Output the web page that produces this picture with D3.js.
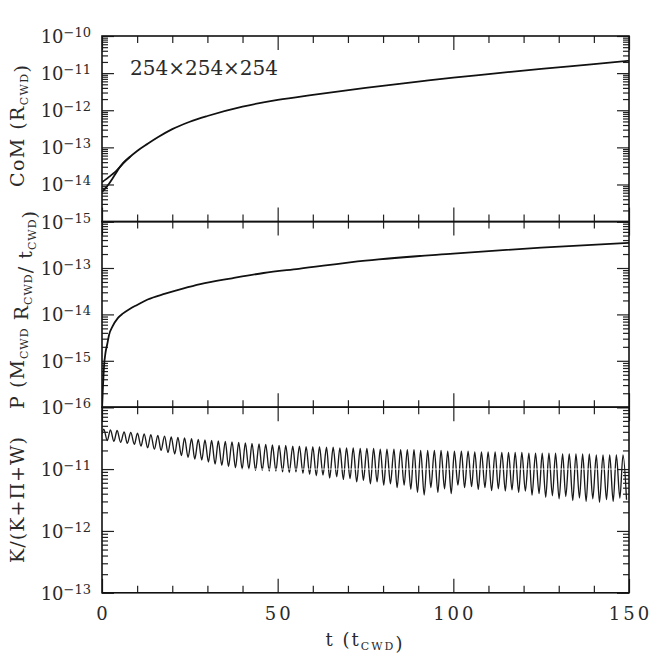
<!DOCTYPE html>
<html>
<head>
<meta charset="utf-8">
<script src="https://cdn.jsdelivr.net/npm/d3@7"></script>
<style>
body { margin: 0; background: #fff; }
text { font-family: "DejaVu Serif", serif; fill: #2a2a2a; }
</style>
</head>
<body>
<div id="chart"></div>
<script>
// ---- data ----
// top panel: centre of mass drift (R_cwd)
var comT = [0, 1, 2, 3, 4, 5, 6, 8, 10, 13, 16, 20, 25, 30, 40, 50, 60, 75, 90, 100, 110, 125, 140, 150];
var comV = [1.15e-14, 1.35e-14, 1.6e-14, 1.9e-14, 2.3e-14, 2.9e-14, 3.7e-14, 5.6e-14, 8.0e-14, 1.25e-13, 1.9e-13,
            3.1e-13, 4.9e-13, 7.0e-13, 1.25e-12, 1.9e-12, 2.6e-12, 4.0e-12, 5.9e-12, 7.6e-12, 9.4e-12, 1.3e-11, 1.75e-11, 2.15e-11];
// second (lower) branch at early times
var comLowT = [0, 1, 2, 3, 4, 5, 6, 8];
var comLowV = [6.3e-15, 8.0e-15, 1.05e-14, 1.45e-14, 2.05e-14, 2.85e-14, 3.75e-14, 5.6e-14];

// middle panel: momentum
var momT = [0, 0.3, 0.6, 1, 1.5, 2, 3, 4.5, 6, 8, 10, 13, 18, 23, 28, 37, 46, 56, 75, 100, 125, 150];
var momV = [1.0e-16, 3.0e-16, 8.0e-16, 1.5e-15, 2.3e-15, 3.6e-15, 5.5e-15, 8.3e-15, 1.05e-14, 1.33e-14, 1.6e-14,
            2.1e-14, 2.8e-14, 3.6e-14, 4.5e-14, 6.0e-14, 7.8e-14, 9.6e-14, 1.44e-13, 2.05e-13, 2.75e-13, 3.5e-13];

// bottom panel: K/(K+Pi+W), oscillation extremes, values in units of 1e-11
var kinUnit = 1e-11;
var peakT = [0.5, 2.4, 4.3, 6.3, 8.2, 10.1, 12.0, 13.9, 15.9, 17.8, 19.7, 21.6, 23.5, 25.5, 27.4, 29.3, 31.2, 33.1,
             35.1, 37.0, 38.9, 40.8, 42.7, 44.7, 46.6, 48.5, 50.4, 52.3, 54.3, 56.2, 58.1, 60.0, 61.9, 63.9, 65.8, 67.7,
             69.6, 71.5, 73.5, 75.4, 77.3, 79.2, 81.1, 83.1, 85.0, 86.9, 88.8, 90.7, 92.7, 94.6, 96.5, 98.4, 100.3,
             102.3, 104.2, 106.1, 108.0, 109.9, 111.9, 113.8, 115.7, 117.6, 119.5, 121.5, 123.4, 125.3, 127.2, 129.1,
             131.1, 133.0, 134.9, 136.8, 138.7, 140.7, 142.6, 144.5, 146.4, 148.3];
var peakV = [4.4, 4.3, 4.2, 4.0, 3.9, 3.8, 3.7, 3.6, 3.5, 3.4, 3.3, 3.25, 3.2, 3.1, 3.0, 2.95, 2.9, 2.85,
             2.8, 2.75, 2.7, 2.65, 2.6, 2.55, 2.5, 2.45,
             2.4, 2.4, 2.35, 2.35, 2.3, 2.3, 2.3, 2.25, 2.25, 2.2, 2.2, 2.2, 2.15, 2.15, 2.15, 2.1, 2.1, 2.1, 2.05, 2.05,
             2.05, 2.0, 2.0, 2.0, 2.0, 1.95,
             1.95, 1.95, 1.95, 1.9, 1.9, 1.9, 1.9, 1.85, 1.85, 1.85, 1.85, 1.8, 1.8, 1.8, 1.8, 1.8, 1.75, 1.75, 1.75,
             1.75, 1.75, 1.7, 1.7, 1.7, 1.7, 1.7];
var troughT = [0, 1.5, 3.4, 5.3, 7.2, 9.2, 11.1, 13.0, 14.9, 16.8, 18.8, 20.7, 22.6, 24.5, 26.4, 28.4, 30.3, 32.2,
               34.1, 36.0, 38.0, 39.9, 41.8, 43.7, 45.6, 47.6, 49.5, 51.4, 53.3, 55.2, 57.2, 59.1, 61.0, 62.9, 64.8,
               66.8, 68.7, 70.6, 72.5, 74.4, 76.4, 78.3, 80.2, 82.1, 84.0, 86.0, 87.9, 89.8, 91.7, 93.6, 95.6, 97.5,
               99.4, 101.3, 103.2, 105.2, 107.1, 109.0, 110.9, 112.8, 114.8, 116.7, 118.6, 120.5, 122.4, 124.4, 126.3,
               128.2, 130.1, 132.0, 134.0, 135.9, 137.8, 139.7, 141.6, 143.6, 145.5, 147.4, 149.3];
var troughV = [3.7, 2.9, 2.8, 2.7, 2.6, 2.5, 2.35, 2.2, 2.1, 2.0, 1.85, 1.75, 1.65, 1.55, 1.45, 1.4, 1.3, 1.2, 1.15,
               1.1, 1.05, 1.0, 1.0, 0.95, 0.95, 0.93, 0.93,
               0.9, 0.88, 0.9, 0.85, 0.82, 0.78, 0.8, 0.72, 0.75, 0.68, 0.7, 0.62, 0.66, 0.58, 0.62, 0.55, 0.58, 0.5,
               0.55, 0.47, 0.42, 0.38, 0.5, 0.42, 0.48, 0.4,
               0.55, 0.5, 0.52, 0.47, 0.5, 0.45, 0.48, 0.44, 0.46, 0.42, 0.44, 0.38, 0.4, 0.35, 0.37, 0.33, 0.36, 0.31,
               0.34, 0.3, 0.33, 0.29, 0.32, 0.3, 0.34, 0.32];

var xMajor = [0, 50, 100, 150];
var xMinor = [10, 20, 30, 40, 60, 70, 80, 90, 110, 120, 130, 140];
var gridLabel = "254×254×254";

// ---- layout ----
var svgWidth = 664, svgHeight = 664;
var left = 102, right = 629;
var panelH = 185.6;
var tops = [36, 36 + panelH, 36 + 2 * panelH];

var svg = d3.select("#chart").append("svg")
    .attr("width", svgWidth)
    .attr("height", svgHeight);

var x = d3.scaleLinear().domain([0, 150]).range([left, right]);

var panels = [
    { exps: [-15, -10], labels: [-10, -11, -12, -13, -14, -15] },
    { exps: [-16, -12], labels: [-13, -14, -15, -16] },
    { exps: [-13, -10], labels: [-11, -12, -13] }
];

panels.forEach(function (p, i) {
    var top = tops[i], bottom = tops[i] + panelH;
    p.top = top;
    p.bottom = bottom;
    p.y = d3.scaleLog()
        .domain([Math.pow(10, p.exps[0]), Math.pow(10, p.exps[1])])
        .range([bottom, top]);

    var majors = [], minors = [];
    for (var e = p.exps[0]; e <= p.exps[1]; e++) {
        majors.push(Math.pow(10, e));
        if (e < p.exps[1]) {
            for (var m = 2; m <= 9; m++) minors.push(m * Math.pow(10, e));
        }
    }

    var g = svg.append("g").attr("class", "panel");

    // clip for the curves
    svg.append("clipPath").attr("id", "clip" + i)
        .append("rect")
        .attr("x", left).attr("y", top)
        .attr("width", right - left).attr("height", panelH);
    p.clip = "url(#clip" + i + ")";

    // y ticks, left and right, pointing inward
    function yAxis(axisFn, xPos, vals, size) {
        g.append("g")
            .attr("transform", "translate(" + xPos + ",0)")
            .call(axisFn(p.y).tickValues(vals).tickSize(-size).tickFormat(""))
            .call(function (a) { a.select(".domain").remove(); });
    }
    yAxis(d3.axisLeft, left, majors, 12);
    yAxis(d3.axisLeft, left, minors, 6);
    yAxis(d3.axisRight, right, majors, 12);
    yAxis(d3.axisRight, right, minors, 6);

    // x ticks on top and bottom edges
    function xAxis(axisFn, yPos, vals, size) {
        g.append("g")
            .attr("transform", "translate(0," + yPos + ")")
            .call(axisFn(x).tickValues(vals).tickSize(-size).tickFormat(""))
            .call(function (a) { a.select(".domain").remove(); });
    }
    xAxis(d3.axisTop, top, xMajor, 14);
    xAxis(d3.axisTop, top, xMinor, 7);
    xAxis(d3.axisBottom, bottom, xMajor, 14);
    xAxis(d3.axisBottom, bottom, xMinor, 7);

    g.selectAll(".tick line").attr("stroke", "#222").attr("stroke-width", 1.2);

    // y tick labels 10^n
    p.labels.forEach(function (e) {
        var t = g.append("text")
            .attr("x", 91)
            .attr("y", p.y(Math.pow(10, e)) + 7)
            .attr("text-anchor", "end")
            .style("font-size", "18px");
        t.append("tspan").text("10");
        t.append("tspan").attr("dy", -6).style("font-size", "13px").text("−" + Math.abs(e));
    });

    // frame
    g.append("rect")
        .attr("x", left).attr("y", top)
        .attr("width", right - left).attr("height", panelH)
        .attr("fill", "none")
        .attr("stroke", "#111")
        .attr("stroke-width", 1.6);
});

// ---- curves ----
function drawLine(panel, pts, width, colour) {
    var line = d3.line()
        .x(d => x(d[0]))
        .y(d => panel.y(d[1]))
        .curve(d3.curveMonotoneX);
    svg.append("path")
        .datum(pts)
        .attr("clip-path", panel.clip)
        .attr("d", line)
        .attr("fill", "none")
        .attr("stroke", colour)
        .attr("stroke-width", width)
        .attr("stroke-linejoin", "round");
}

drawLine(panels[0], comT.map((t, i) => [t, comV[i]]), 1.8, "#111");
drawLine(panels[0], comLowT.map((t, i) => [t, comLowV[i]]), 1.8, "#111");
drawLine(panels[1], momT.map((t, i) => [t, momV[i]]), 1.8, "#111");

var kinPts = [];
troughT.forEach(function (t, i) {
    kinPts.push([t, troughV[i] * kinUnit]);
    if (i < peakT.length) kinPts.push([peakT[i], peakV[i] * kinUnit]);
});
drawLine(panels[2], kinPts, 1.35, "#1a1a1a");

// faint white line at 1e-11 crossing the oscillation
svg.append("line")
    .attr("x1", left + 12).attr("x2", right - 12)
    .attr("y1", panels[2].y(1e-11)).attr("y2", panels[2].y(1e-11))
    .attr("stroke", "#fff").attr("stroke-width", 1).attr("opacity", 0.8);

// ---- text ----
svg.append("text")
    .attr("x", 130).attr("y", 75)
    .style("font-size", "20px")
    .text(gridLabel);

// x tick labels
svg.selectAll(".xlab").data(xMajor).enter().append("text")
    .attr("class", "xlab")
    .attr("x", d => x(d) + 1.5)
    .attr("y", 620)
    .attr("text-anchor", "middle")
    .style("font-size", "18px")
    .style("letter-spacing", "3px")
    .text(d => d);

function subText(sel, parts) {
    parts.forEach(function (pt) {
        if (pt.sub) {
            sel.append("tspan").attr("dy", 4).style("font-size", "11px").text(pt.sub);
            sel.append("tspan").attr("dy", -4).text("");
        } else {
            sel.append("tspan").text(pt.t);
        }
    });
}

// x title
var xt = svg.append("text")
    .attr("x", 364).attr("y", 646)
    .attr("text-anchor", "middle")
    .attr("textLength", 77)
    .attr("lengthAdjust", "spacing")
    .style("font-size", "18px");
subText(xt, [{ t: "t (t" }, { sub: "CWD" }, { t: ")" }]);

// y titles
function yTitle(cy, len, parts) {
    var t = svg.append("text")
        .attr("transform", "translate(24," + cy + ") rotate(-90)")
        .attr("text-anchor", "middle")
        .attr("textLength", len)
        .attr("lengthAdjust", "spacing")
        .style("font-size", "19px");
    subText(t, parts);
}
yTitle(126, 122, [{ t: "CoM (R" }, { sub: "CWD" }, { t: ")" }]);
yTitle(310, 198, [{ t: "P (M" }, { sub: "CWD" }, { t: " R" }, { sub: "CWD" }, { t: "/ t" }, { sub: "CWD" }, { t: ")" }]);
yTitle(500, 126, [{ t: "K/(K+Π+W)" }]);
</script>
</body>
</html>
